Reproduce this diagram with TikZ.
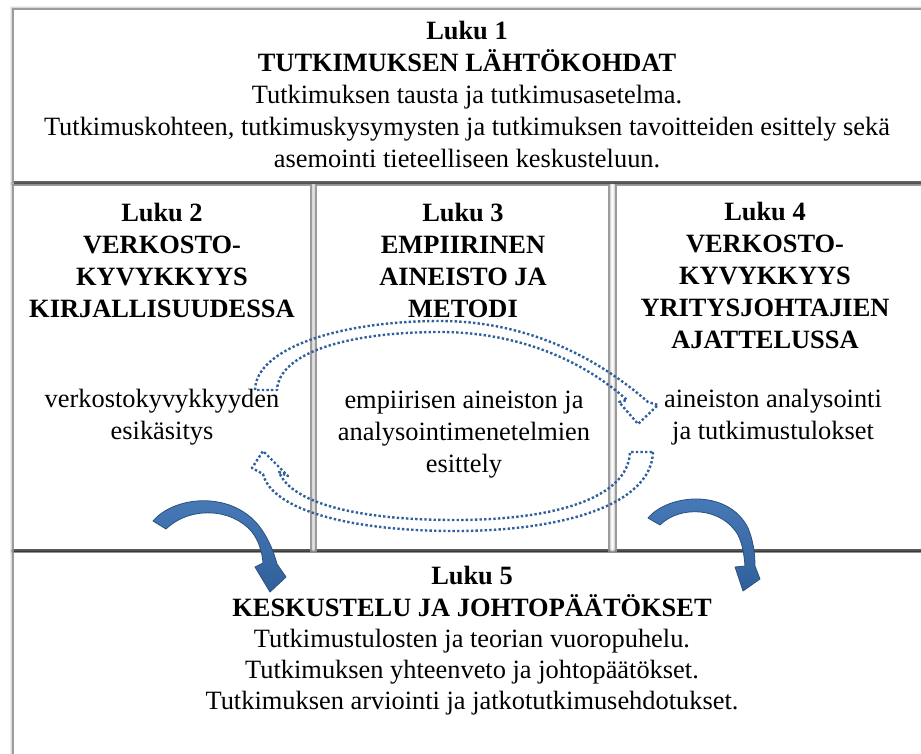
\documentclass[tikz,border=0pt]{standalone}
\usepackage{fontspec}
\setmainfont{Liberation Serif}
\definecolor{loopblue}{HTML}{30609C}
\definecolor{arrowtop}{HTML}{4A7CBA}
\definecolor{arrowbot}{HTML}{30609A}
\definecolor{arrowedge}{HTML}{2A527F}
\begin{document}
\begin{tikzpicture}[x=1pt,y=-1pt,
  panel/.style={rectangle, fill=white, inner sep=0pt, outer sep=0pt,
    preaction={draw=black, draw opacity=0.06, line width=8pt},
    preaction={draw=black, draw opacity=0.10, line width=5.5pt},
    preaction={draw=black, draw opacity=0.28, line width=3.5pt},
    preaction={fill=black!62, transform canvas={yshift=-2.5pt}}},
  body/.style={align=center, inner sep=0pt, font=\fontsize{26.4}{32}\selectfont},
  head/.style={body, font=\fontsize{26.4}{32}\selectfont\bfseries},
  loopline/.style={draw=loopblue, line width=2.4pt, dash pattern=on 2.4pt off 2.2pt, line join=round},
  bendarrow/.style={draw=arrowedge, line width=0.8pt, top color=arrowtop, bottom color=arrowbot, line join=round}]
\useasboundingbox (0,0) rectangle (921,753);
\clip (0,0) rectangle (921,753);

% chapter panels
\node[panel, minimum width=916pt, minimum height=171pt] (p1) at (472,95.5) {};
\node[panel, minimum width=296pt, minimum height=363pt] (p2) at (162,367.5) {};
\node[panel, minimum width=291pt, minimum height=363pt] (p3) at (462.5,367.5) {};
\node[panel, minimum width=313pt, minimum height=363pt] (p4) at (773.5,367.5) {};
\node[panel, minimum width=916pt, minimum height=217pt] (p5) at (472,661.5) {};

% dotted circular arrows between the chapters
\path[loopline] (255,390) .. controls (256,348) and (340,321) .. (440,321)
  .. controls (530,321) and (600,360) .. (648,402) -- (658,405) -- (638,424) -- (619,402) -- (627,400)
  .. controls (585,362) and (520,332) .. (440,332)
  .. controls (350,332) and (279,352) .. (277,390) -- cycle;
\path[loopline] (653,452) .. controls (651,506) and (560,531) .. (455,531)
  .. controls (350,531) and (272,510) .. (263,474) -- (252,468) -- (263,451) -- (288,476) -- (279,472)
  .. controls (292,504) and (360,520) .. (455,520)
  .. controls (550,520) and (628,500) .. (630,452) -- cycle;

% bent block arrows into chapter 5
\path[bendarrow] (153,521) .. controls (175,495) and (235,490) .. (262,530)
  .. controls (270,542) and (274,553) .. (277,564) -- (286,577) -- (270,592) -- (255,567) -- (263,563)
  .. controls (262,550) and (258,540) .. (252,532)
  .. controls (232,508) and (190,506) .. (166,529) -- cycle;
\path[bendarrow] (648,518) .. controls (668,494) and (728,488) .. (748,528)
  .. controls (753,540) and (755,553) .. (755,566) -- (760,579) -- (743,591) -- (735,567) -- (745,566)
  .. controls (744,553) and (742,543) .. (738,535)
  .. controls (722,507) and (680,505) .. (660,525) -- cycle;

% texts
\node[body] (t1) at (467,95) {\textbf{Luku 1}\\\textbf{TUTKIMUKSEN LÄHTÖKOHDAT}\\Tutkimuksen tausta ja tutkimusasetelma.\\Tutkimuskohteen, tutkimuskysymysten ja tutkimuksen tavoitteiden esittely sekä\\asemointi tieteelliseen keskusteluun.};
\node[head] (h2) at (162,260) {Luku 2\\VERKOSTO-\\KYVYKKYYS\\KIRJALLISUUDESSA};
\node[body] (b2) at (162,417) {verkostokyvykkyyden\\esikäsitys};
\node[head] (h3) at (463,260) {Luku 3\\EMPIIRINEN\\AINEISTO JA\\METODI};
\node[body] (b3) at (464,435) {empiirisen aineiston ja\\analysointimenetelmien\\esittely};
\node[head] (h4) at (765,275) {Luku 4\\VERKOSTO-\\KYVYKKYYS\\YRITYSJOHTAJIEN\\AJATTELUSSA};
\node[body] (b4) at (773,417) {aineiston analysointi\\ja tutkimustulokset};
\node[body, font=\fontsize{26.4}{31.3}\selectfont] (t5) at (472,641) {\textbf{Luku 5}\\\textbf{KESKUSTELU JA JOHTOPÄÄTÖKSET}\\Tutkimustulosten ja teorian vuoropuhelu.\\Tutkimuksen yhteenveto ja johtopäätökset.\\Tutkimuksen arviointi ja jatkotutkimusehdotukset.};
\end{tikzpicture}
\end{document}
